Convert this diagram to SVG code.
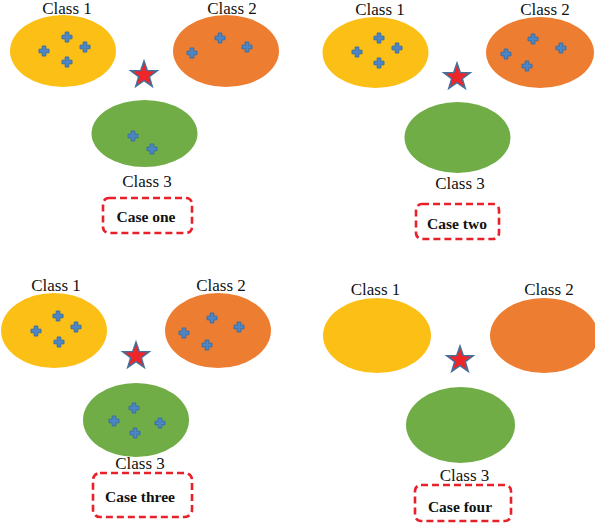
<svg xmlns="http://www.w3.org/2000/svg" width="595" height="529" viewBox="0 0 595 529">
<style>
.lbl{font-family:"Liberation Serif","Times New Roman",serif;font-size:17px;fill:#111;text-anchor:middle}
.case{font-family:"Liberation Serif","Times New Roman",serif;font-size:15.5px;font-weight:bold;fill:#111;text-anchor:middle}
.c1{fill:#FBBF16}
.c2{fill:#ED7D31}
.c3{fill:#70AD47}
.box{fill:none;stroke:#E8202A;stroke-width:2.6;stroke-dasharray:7,4}
</style>
<defs>
<path id="plus" d="M-1.8,-5 H1.8 V-1.8 H5 V1.8 H1.8 V5 H-1.8 V1.8 H-5 V-1.8 H-1.8 Z" fill="#4A86C8" stroke="#3A6EA5" stroke-width="1"/>
<path id="star" d="M0,-14 L3.29,-4.53 L13.31,-4.33 L5.33,1.73 L8.23,11.33 L0,5.6 L-8.23,11.33 L-5.33,1.73 L-13.31,-4.33 L-3.29,-4.53 Z" fill="#EE2529" stroke="#41719C" stroke-width="1.5" stroke-linejoin="miter"/>
</defs>
<g id="case-one">
<g id="p1-class1"><ellipse class="c1" cx="63" cy="51" rx="53" ry="36"/><text class="lbl" x="67" y="14">Class 1</text>
<use href="#plus" x="67" y="37"/><use href="#plus" x="44" y="51"/><use href="#plus" x="85" y="47"/><use href="#plus" x="67" y="62"/></g>
<g id="p1-class2"><ellipse class="c2" cx="226" cy="51" rx="53" ry="36"/><text class="lbl" x="232" y="14">Class 2</text>
<use href="#plus" x="220" y="38"/><use href="#plus" x="192" y="53"/><use href="#plus" x="247" y="47"/></g>
<g id="p1-class3"><ellipse class="c3" cx="144.5" cy="133.5" rx="53" ry="33.5"/><text class="lbl" x="147" y="187">Class 3</text>
<use href="#plus" x="133" y="136"/><use href="#plus" x="152" y="149"/></g>
<g id="p1-star"><use href="#star" x="144" y="75"/></g>
<g id="p1-case"><rect class="box" x="103" y="198" width="89" height="35" rx="6"/><text class="case" x="146" y="222">Case one</text></g>
</g>
<g id="case-two">
<g id="p2-class1"><ellipse class="c1" cx="375.5" cy="52.5" rx="53" ry="35.5"/><text class="lbl" x="380" y="15">Class 1</text>
<use href="#plus" x="379" y="38"/><use href="#plus" x="357" y="52"/><use href="#plus" x="397" y="48"/><use href="#plus" x="379" y="63"/></g>
<g id="p2-class2"><ellipse class="c2" cx="540" cy="52.5" rx="54" ry="35.5"/><text class="lbl" x="545" y="15">Class 2</text>
<use href="#plus" x="533" y="39"/><use href="#plus" x="506" y="54"/><use href="#plus" x="561" y="48"/><use href="#plus" x="527" y="66"/></g>
<g id="p2-class3"><ellipse class="c3" cx="457.5" cy="137.5" rx="53" ry="35.5"/><text class="lbl" x="460" y="189">Class 3</text></g>
<g id="p2-star"><use href="#star" x="457" y="77"/></g>
<g id="p2-case"><rect class="box" x="416" y="204" width="83" height="35" rx="6"/><text class="case" x="457" y="229">Case two</text></g>
</g>
<g id="case-three">
<g id="p3-class1"><ellipse class="c1" cx="54" cy="330.5" rx="53" ry="37.5"/><text class="lbl" x="56" y="291">Class 1</text>
<use href="#plus" x="58" y="316"/><use href="#plus" x="36" y="331"/><use href="#plus" x="76" y="327"/><use href="#plus" x="59" y="342"/></g>
<g id="p3-class2"><ellipse class="c2" cx="218" cy="330.5" rx="53" ry="37.5"/><text class="lbl" x="221" y="291">Class 2</text>
<use href="#plus" x="212" y="318"/><use href="#plus" x="184" y="333"/><use href="#plus" x="239" y="327"/><use href="#plus" x="207" y="345"/></g>
<g id="p3-class3"><ellipse class="c3" cx="136" cy="420" rx="53" ry="37"/><text class="lbl" x="140" y="469">Class 3</text>
<use href="#plus" x="134" y="408"/><use href="#plus" x="114" y="421"/><use href="#plus" x="160" y="423"/><use href="#plus" x="135" y="433"/></g>
<g id="p3-star"><use href="#star" x="136" y="356"/></g>
<g id="p3-case"><rect class="box" x="93" y="473" width="99" height="44" rx="7"/><text class="case" x="140" y="502">Case three</text></g>
</g>
<g id="case-four">
<g id="p4-class1"><ellipse class="c1" cx="377" cy="335.5" rx="54" ry="37.5"/><text class="lbl" x="375.5" y="295">Class 1</text></g>
<g id="p4-class2"><ellipse class="c2" cx="544" cy="335.5" rx="54" ry="37.5"/><text class="lbl" x="549" y="295">Class 2</text></g>
<g id="p4-class3"><ellipse class="c3" cx="460.5" cy="425" rx="54.5" ry="38"/><text class="lbl" x="464.5" y="481">Class 3</text></g>
<g id="p4-star"><use href="#star" x="460" y="360"/></g>
<g id="p4-case"><rect class="box" x="415" y="485" width="96" height="36" rx="6"/><text class="case" x="460" y="512">Case four</text></g>
</g>
<g id="connectors"/>
</svg>
